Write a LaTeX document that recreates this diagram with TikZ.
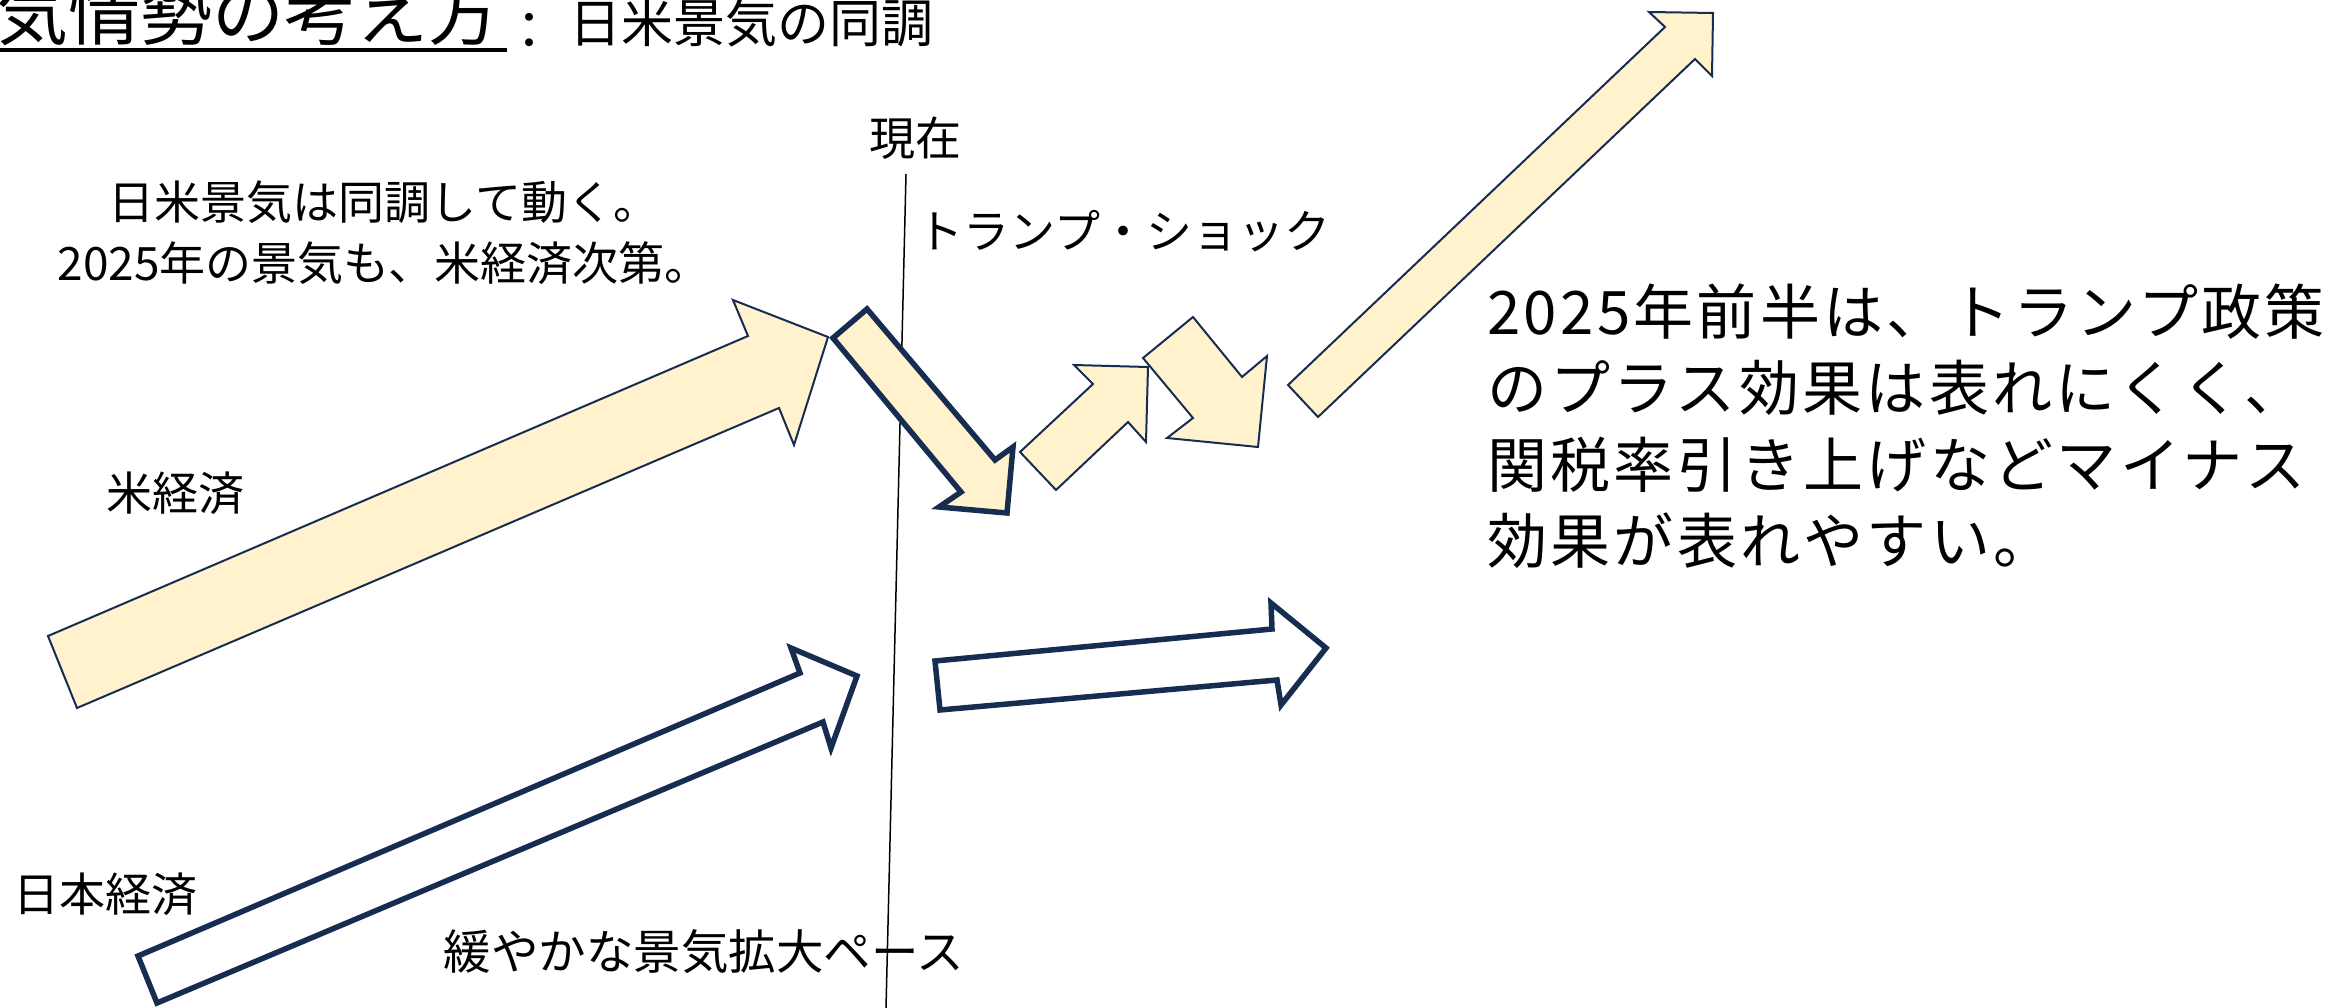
\documentclass[tikz,border=0pt]{standalone}
\usepackage{fontspec}
\setmainfont{Noto Sans CJK JP}
\newfontfamily\notefont{Noto Sans CJK JP}[LetterSpace=5.5]
\definecolor{cream}{HTML}{FFF2CC}
\definecolor{navy}{HTML}{172C51}
\begin{document}
\begin{tikzpicture}[x=1pt,y=-1pt,
  thinarrow/.style={draw=navy,fill=cream,line width=2pt,line join=miter},
  thickarrow/.style={draw=navy,line width=5.5pt,line join=miter},
  lbl/.style={inner sep=0pt,font=\fontsize{46}{61}\selectfont}]
\useasboundingbox (0,0) rectangle (2336,1008);
% "now" line
\draw[line width=1.5pt,black] (906,174) -- (886,1008);
% US economy arrow
\draw[thinarrow] (48,636) -- (748,336) -- (733,300) -- (828,337) -- (794,445) -- (779,408) -- (77,708) -- cycle;
% Trump shock arrow
\draw[thickarrow,fill=cream] (867,309) -- (995,460) -- (1013,447) -- (1007,513) -- (939,507) -- (961,492) -- (833,338) -- cycle;
% small up arrow
\draw[thinarrow] (1020,452) -- (1093,384) -- (1074,365) -- (1148,367) -- (1146,442) -- (1128,422) -- (1056,490) -- cycle;
% small down arrow
\draw[thinarrow] (1143,358) -- (1193,317) -- (1242,377) -- (1267,356) -- (1258,447) -- (1167,438) -- (1193,418) -- cycle;
% big up arrow
\draw[thinarrow] (1288,385) -- (1665,27) -- (1649,12) -- (1713,13) -- (1712,76) -- (1695,59) -- (1318,417) -- cycle;
% Japan economy arrow
\draw[thickarrow,fill=white] (138,956) -- (800,673) -- (791,648) -- (857,676) -- (831,748) -- (823,722) -- (157,1003) -- cycle;
% Japan future arrow
\draw[thickarrow,fill=white] (935,661) -- (1272,629) -- (1271,603) -- (1326,648) -- (1281,705) -- (1277,680) -- (940,710) -- cycle;
% texts
\node[lbl,anchor=base west,font=\fontsize{72}{72}\selectfont] (title) at (-4,40) {気情勢の考え方};
\draw[line width=4.5pt] (0,50) -- (507,50);
\node[lbl,font=\fontsize{52}{52}\selectfont] (colon) at (529,31) {：};
\node[lbl,font=\fontsize{52}{52}\selectfont] (subtitle) at (751,23) {日米景気の同調};
\node[lbl] (now) at (915,138) {現在};
\node[lbl,align=center] (sync) at (384,233) {日米景気は同調して動く。\\2025年の景気も、米経済次第。};
\node[lbl] (trump) at (1124,231) {トランプ・ショック};
\node[lbl] (us) at (175,493) {米経済};
\node[lbl] (jp) at (105,894) {日本経済};
\node[lbl,font=\fontsize{47.5}{61}\selectfont] (pace) at (704,952) {緩やかな景気拡大ペース};
\node[lbl,anchor=west,align=left,font=\notefont\fontsize{60}{76.5}\selectfont] (note) at (1487,426)
  {2025年前半は、トランプ政策\\のプラス効果は表れにくく、\\関税率引き上げなどマイナス\\効果が表れやすい。};
\end{tikzpicture}
\end{document}
